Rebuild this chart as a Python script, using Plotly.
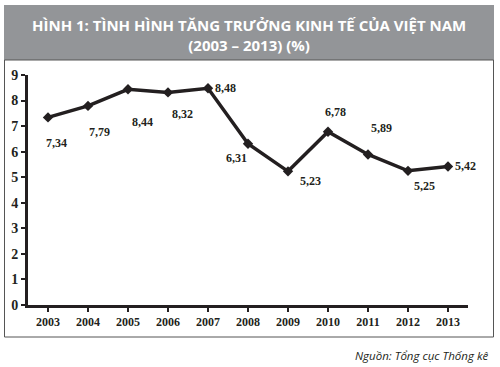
import plotly.graph_objects as go

years = ["2003", "2004", "2005", "2006", "2007", "2008", "2009", "2010", "2011", "2012", "2013"]
growth = [7.34, 7.79, 8.44, 8.32, 8.48, 6.31, 5.23, 6.78, 5.89, 5.25, 5.42]
labels = ["7,34", "7,79", "8,44", "8,32", "8,48", "6,31", "5,23", "6,78", "5,89", "5,25", "5,42"]
label_dx = [8, 11, 14, 14, 17, -12, 22, 7, 13, 16, 17]
label_dy = [-26, -26, -33, -22, 0, -14, -10, 20, 26, -15, 0]

W, H = 500, 367
L, R, T, B = 28, 32, 75, 62
pw, ph = W - L - R, H - T - B


def px(x):
    return (x - L) / pw


def py(y):
    return (H - B - y) / ph


serif = "Liberation Serif"

fig = go.Figure()
fig.add_trace(go.Scatter(
    x=list(range(len(years))), y=growth, mode="lines+markers",
    line=dict(color="#231f20", width=3.5),
    marker=dict(symbol="diamond", size=8, color="#231f20"),
    hoverinfo="skip", showlegend=False, cliponaxis=False,
))

for i, (v, t) in enumerate(zip(growth, labels)):
    fig.add_annotation(x=i, y=v, text="<b>" + t + "</b>", showarrow=False,
                       xshift=label_dx[i], yshift=label_dy[i],
                       font=dict(family=serif, size=12, color="#231f20"))

# title box
fig.add_shape(type="rect", xref="paper", yref="paper", x0=px(4), x1=px(494), y0=py(60), y1=py(5),
              fillcolor="#939598", line=dict(width=0), layer="below")
# chart frame
fig.add_shape(type="rect", xref="paper", yref="paper", x0=px(4.5), x1=px(493.5), y0=py(337), y1=py(60),
              fillcolor="rgba(0,0,0,0)", line=dict(color="#555555", width=1), layer="below")

fig.add_annotation(xref="paper", yref="paper", x=px(249), y=py(35), xanchor="center", yanchor="middle",
                   text="<b>HÌNH 1: TÌNH HÌNH TĂNG TRƯỞNG KINH TẾ CỦA VIỆT NAM<br>(2003 – 2013) (%)</b>",
                   showarrow=False, font=dict(family="Open Sans", size=15, color="white"), align="center")
fig.add_annotation(xref="paper", yref="paper", x=px(491), y=py(355), xanchor="right", yanchor="middle",
                   text="<i>Nguồn: Tổng cục Thống kê</i>", showarrow=False,
                   font=dict(family="Open Sans", size=11.5, color="#231f20"))

fig.update_xaxes(range=[-0.5, 10.5], tickmode="array", tickvals=list(range(11)), ticktext=years,
                 showline=True, linecolor="#231f20", linewidth=3, ticks="outside", tickson="boundaries",
                 ticklen=4, tickwidth=2, tickcolor="#231f20", showgrid=False, zeroline=False,
                 tickfont=dict(family=serif, size=12, color="#231f20", weight="bold"), fixedrange=True)
fig.update_yaxes(range=[0, 9], dtick=1, showline=True, linecolor="#231f20", linewidth=3,
                 ticks="outside", ticklen=4, tickwidth=2, tickcolor="#231f20", showgrid=False, zeroline=False,
                 tickfont=dict(family=serif, size=14, color="#231f20", weight="bold"), fixedrange=True)

fig.update_layout(width=W, height=H, margin=dict(l=L, r=R, t=T, b=B),
                  paper_bgcolor="white", plot_bgcolor="white")
fig.write_html("out.html")
